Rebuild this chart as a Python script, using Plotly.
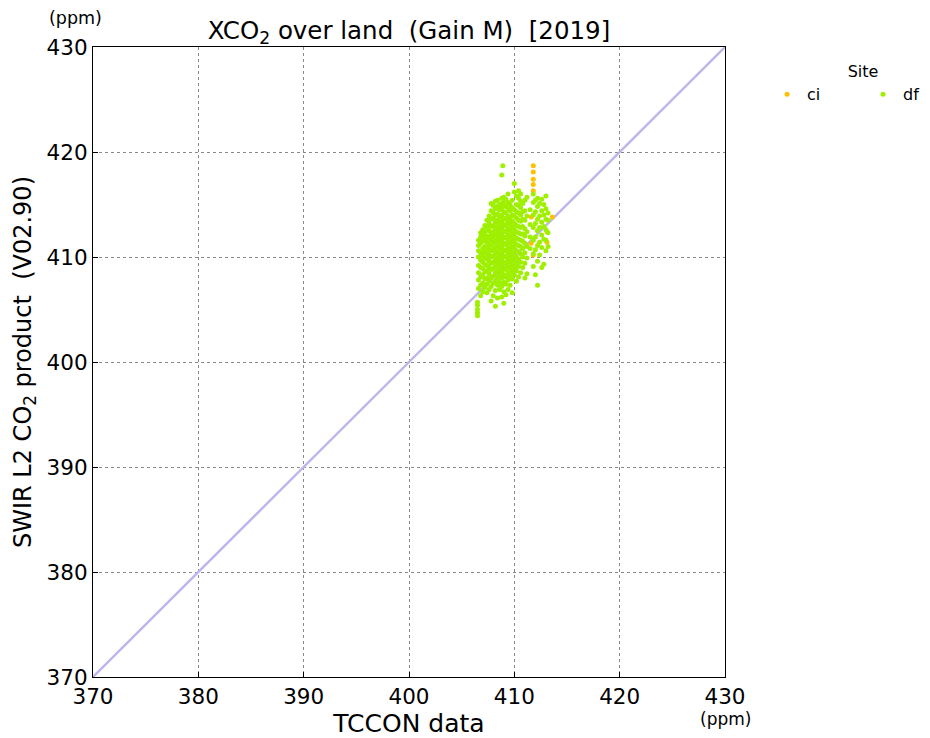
import plotly.graph_objects as go

# ---- data ----
df_cols = {
    406.5: [404.4, 404.7, 405.0, 405.4, 405.7],
    406.6: [407.0, 407.8, 408.5, 409.2, 410.0, 410.6, 411.1, 411.6],
    406.8: [406.3, 407.3, 408.1, 409.0, 409.7, 410.4, 411.3, 411.9, 412.3],
    407.0: [406.7, 407.5, 408.3, 408.9, 409.5, 410.1, 410.8, 411.5, 412.1, 412.6],
    407.2: [407.1, 407.9, 408.6, 409.3, 409.9, 410.5, 411.0, 411.7, 412.4, 413.0],
    407.4: [406.6, 407.4, 408.0, 408.7, 409.2, 409.8, 410.3, 410.9, 411.4, 412.0, 412.8, 413.5],
    407.6: [406.9, 407.7, 408.4, 409.0, 409.6, 410.2, 410.7, 411.2, 411.8, 412.5, 413.2, 413.9],
    407.8: [405.8, 407.2, 408.0, 408.8, 409.4, 410.0, 410.6, 411.1, 411.6, 412.2, 412.9, 413.6, 414.4, 415.1],
    408.0: [406.3, 407.5, 408.2, 408.9, 409.5, 410.1, 410.7, 411.3, 411.9, 412.4, 413.0, 413.7, 414.2, 414.9],
    408.2: [405.3, 406.8, 407.7, 408.5, 409.1, 409.7, 410.3, 410.9, 411.5, 412.1, 412.7, 413.3, 414.0, 414.6, 415.3],
    408.4: [406.1, 407.3, 408.0, 408.7, 409.3, 409.9, 410.5, 411.1, 411.7, 412.3, 412.9, 413.5, 414.1, 414.8, 415.4],
    408.6: [406.9, 407.6, 408.3, 409.0, 409.6, 410.2, 410.8, 411.4, 412.0, 412.6, 413.2, 413.8, 414.5, 415.0],
    408.8: [406.2, 407.2, 408.0, 408.6, 409.2, 409.8, 410.4, 411.0, 411.6, 412.2, 412.8, 413.4, 414.0, 414.7, 415.6, 417.8],
    408.9: [418.7, 407.5, 409.5, 411.3, 413.0, 415.2],
    409.0: [405.6, 406.7, 407.6, 408.3, 408.9, 409.5, 410.1, 410.7, 411.3, 411.9, 412.5, 413.1, 413.7, 414.3, 415.0, 415.7],
    409.2: [406.4, 407.4, 408.1, 408.8, 409.4, 410.0, 410.6, 411.2, 411.8, 412.4, 413.0, 413.6, 414.2, 414.8, 415.5],
    409.4: [406.9, 407.8, 408.5, 409.1, 409.7, 410.3, 410.9, 411.5, 412.1, 412.7, 413.3, 413.9, 414.6, 415.2, 416.0],
    409.6: [407.3, 408.2, 408.9, 409.5, 410.1, 410.7, 411.3, 411.9, 412.5, 413.1, 413.7, 414.4, 415.0],
    409.8: [406.6, 407.9, 408.6, 409.2, 409.8, 410.4, 411.0, 411.6, 412.2, 412.8, 413.4, 414.0, 414.7, 415.4],
    410.0: [408.3, 409.0, 409.6, 410.2, 410.8, 411.4, 412.0, 412.6, 413.2, 413.9, 414.5, 416.2, 417.0],
    410.2: [407.7, 408.7, 409.4, 410.0, 410.6, 411.2, 411.8, 412.4, 413.0, 413.7, 414.3, 415.0, 415.8],
    410.4: [408.1, 409.1, 409.8, 410.5, 411.1, 411.7, 412.3, 412.9, 413.5, 414.2, 414.9, 415.6, 416.3],
    410.6: [408.5, 409.5, 410.3, 411.0, 411.6, 412.2, 412.8, 413.4, 414.0, 414.7, 415.3, 416.0],
    410.8: [409.0, 410.0, 410.8, 411.5, 412.2, 412.9, 413.6, 414.3, 415.1],
    411.0: [408.0, 409.4, 410.4, 411.3, 412.0, 412.7, 413.5, 414.4, 415.4],
    411.2: [408.4, 409.9, 411.0, 412.4, 413.9, 415.7],
    411.5: [410.8, 411.9, 413.1, 414.5],
    411.8: [409.1, 410.3, 411.6, 412.8, 414.0, 415.2, 416.0],
    412.0: [408.3, 410.7, 411.9, 413.2, 414.3, 415.4],
    412.2: [407.3, 409.6, 411.1, 412.5, 413.6, 414.8, 415.6],
    412.4: [410.2, 411.4, 412.8, 413.9, 415.1],
    412.6: [409.0, 410.9, 412.1, 413.3, 414.4, 415.5],
    412.8: [409.3, 411.7, 412.9, 414.0, 415.0],
    413.0: [410.6, 411.6, 412.6, 413.6, 414.6, 415.8],
    413.2: [411.0, 412.3, 413.5, 414.2],
}
ci_x = [411.8, 411.8, 411.8, 411.8, 411.8, 411.6, 411.6, 413.1, 413.1, 413.6, 411.8]
ci_y = [416.3, 416.9, 417.4, 418.1, 418.7, 413.8, 411.3, 412.4, 411.4, 413.8, 410.2]

df_x = [x for x, ys in df_cols.items() for _ in ys]
df_y = [y for ys in df_cols.values() for y in ys]

axis_range = [370, 430]
tick_vals = [370, 380, 390, 400, 410, 420, 430]

FONT = "DejaVu Sans"

fig = go.Figure()
fig.add_trace(go.Scatter(x=axis_range, y=axis_range, mode="lines",
                         line=dict(color="#c0b4ec", width=2.4),
                         showlegend=False, hoverinfo="skip"))
fig.add_trace(go.Scatter(x=ci_x, y=ci_y, mode="markers", name="ci",
                         marker=dict(color="#ffc000", size=5)))
fig.add_trace(go.Scatter(x=df_x, y=df_y, mode="markers", name="df",
                         marker=dict(color="#9ef000", size=5)))

axis_common = dict(range=axis_range, tickvals=tick_vals, showgrid=True,
                   gridcolor="#8a8a8a", griddash="dot", gridwidth=1,
                   showline=True, linecolor="black", linewidth=1.2, mirror=True,
                   ticks="inside", ticklen=5, tickcolor="black", tickwidth=1,
                   zeroline=False, automargin=False,
                   tickfont=dict(size=21.5, color="black", family=FONT))

fig.update_xaxes(**axis_common, title=dict(text="TCCON data", font=dict(size=25, color="black", family=FONT), standoff=3))
fig.update_yaxes(**axis_common, title=dict(text="SWIR L2 CO<sub>2</sub> product  (V02.90)", font=dict(size=24, color="black", family=FONT), standoff=8))

W, H = 922, 730
L, T, PW, PH = 85, 39, 632, 630
fig.update_layout(
    width=W, height=H,
    margin=dict(l=L, r=W - L - PW, t=T, b=H - T - PH, autoexpand=False),
    plot_bgcolor="white", paper_bgcolor="white",
    font=dict(family=FONT, color="black"),
    title=dict(text="XCO<sub>2</sub> over land  (Gain M)  [2019]", x=(L + PW / 2) / W, xanchor="center",
               y=1 - 22 / H, yanchor="middle", font=dict(size=24.5, color="black", family=FONT)),
    legend=dict(title=dict(text="Site", side="top center", font=dict(size=16)),
                orientation="h", x=1.0665, xanchor="left", y=0.985, yanchor="top",
                font=dict(size=16), entrywidth=51, entrywidthmode="pixels",
                bgcolor="rgba(0,0,0,0)"),
    annotations=[
        dict(text="(ppm)", x=-0.028, xref="paper", y=1.0, yref="paper", yshift=29, showarrow=False,
             xanchor="center", yanchor="middle",
             font=dict(size=17.5, color="black", family=FONT)),
        dict(text="(ppm)", x=1.0, xref="paper", y=0, yref="paper", yshift=-42, showarrow=False,
             xanchor="center", yanchor="middle",
             font=dict(size=17, color="black", family=FONT)),
    ],
)

fig.write_html("out.html")
